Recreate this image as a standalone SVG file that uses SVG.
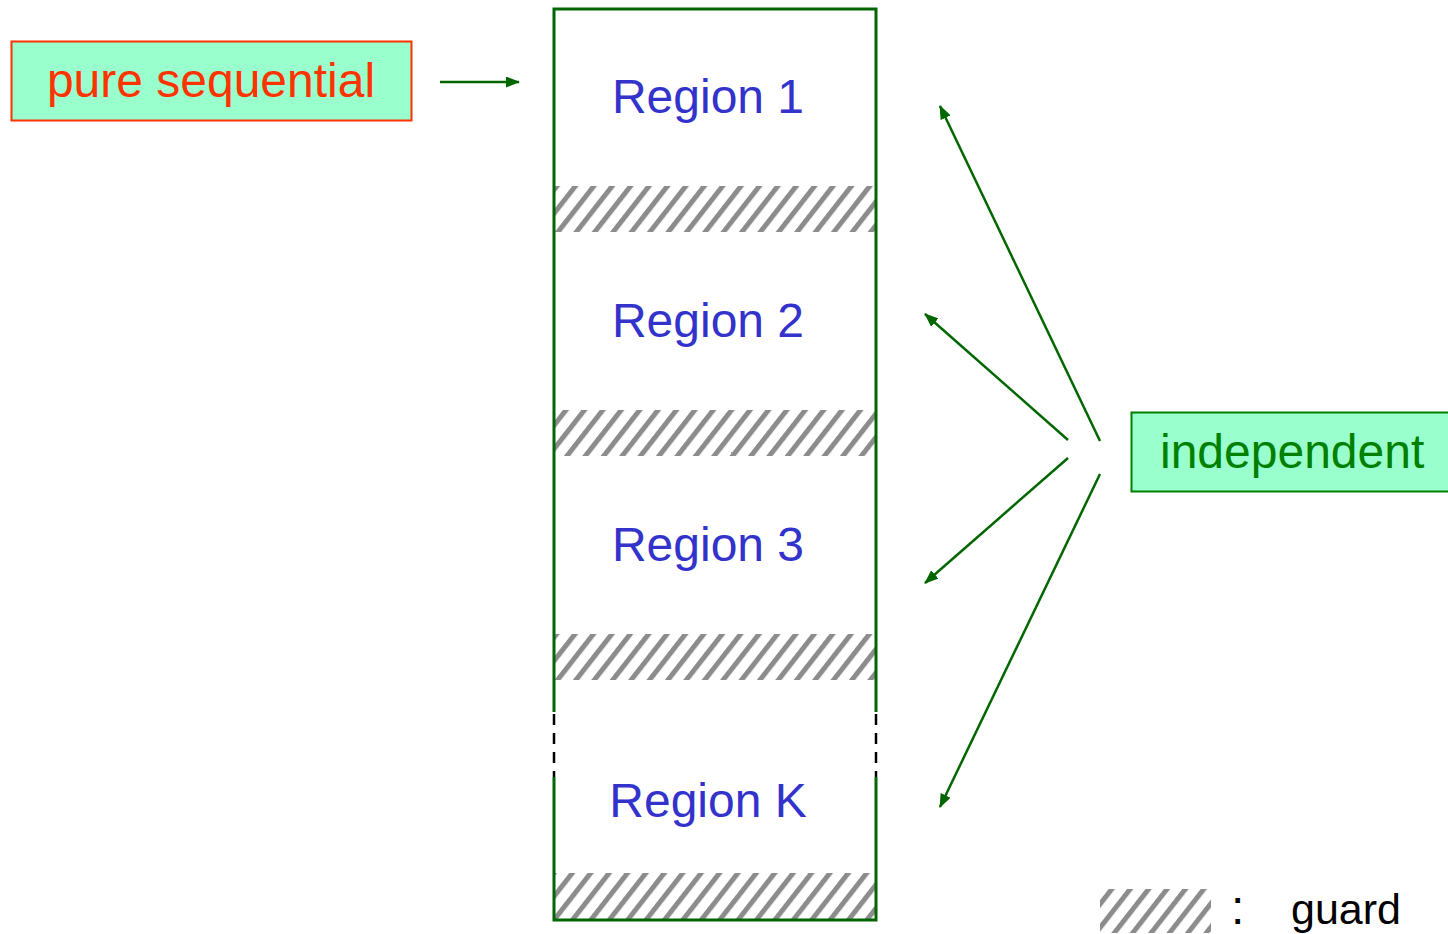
<svg xmlns="http://www.w3.org/2000/svg" width="1448" height="934" viewBox="0 0 1448 934">
  <style>
    .lbl { font-family: "Liberation Sans", Arial, sans-serif; font-size: 48px; }
    .region { fill: #3333cc; text-anchor: middle; }
    .wall { stroke: #006600; stroke-width: 3; fill: none; }
    .gap { stroke: #000; stroke-width: 2.5; stroke-dasharray: 11 8; fill: none; }
    .conn { stroke: #006600; stroke-width: 2.5; fill: none; marker-end: url(#arrow); }
    .guard { fill: url(#hatch); }
  </style>
  <defs>
    <pattern id="hatch" patternUnits="userSpaceOnUse" width="14.5" height="15" patternTransform="rotate(38)">
      <rect width="14.5" height="15" fill="#fff"/>
      <rect x="0" y="0" width="5" height="15" fill="#8c8c8c"/>
    </pattern>
    <marker id="arrow" viewBox="0 0 14 11" refX="13" refY="5.5" markerWidth="14" markerHeight="11" markerUnits="userSpaceOnUse" orient="auto">
      <path d="M0,0 L14,5.5 L0,11 Z" fill="#006600"/>
    </marker>
  </defs>

  <rect width="1448" height="934" fill="#fff"/>

  <!-- stacked regions with guard bands -->
  <g id="stack">
    <rect class="guard" x="555" y="186" width="321" height="46"/>
    <rect class="guard" x="555" y="410" width="321" height="46"/>
    <rect class="guard" x="555" y="634" width="321" height="46"/>
    <rect class="guard" x="555" y="873" width="321" height="46"/>
    <path class="wall" d="M554,712 V9 H876 V712"/>
    <path class="wall" d="M554,777 V920 H876 V777"/>
    <line class="gap" x1="554" y1="714" x2="554" y2="777"/>
    <line class="gap" x1="876" y1="714" x2="876" y2="777"/>
  </g>

  <g id="region1"><text class="lbl region" x="708" y="113">Region 1</text></g>
  <g id="region2"><text class="lbl region" x="708" y="337">Region 2</text></g>
  <g id="region3"><text class="lbl region" x="708" y="561">Region 3</text></g>
  <g id="regionK"><text class="lbl region" x="708" y="817">Region K</text></g>

  <g id="pure-sequential">
    <rect x="11.5" y="41.5" width="400" height="79" fill="#99ffcc" stroke="#ff3300" stroke-width="2"/>
    <text class="lbl" x="211" y="97" fill="#ff3300" text-anchor="middle">pure sequential</text>
  </g>

  <g id="independent">
    <rect x="1131.5" y="412.5" width="320" height="79" fill="#99ffcc" stroke="#008000" stroke-width="2"/>
    <text class="lbl" x="1160" y="468" fill="#008000">independent</text>
  </g>

  <g id="legend">
    <rect class="guard" x="1100" y="889" width="111" height="44"/>
    <text class="lbl" x="1231" y="924" font-size="42" fill="#000">:</text>
    <text class="lbl" x="1291" y="924" style="font-size:43px" fill="#000">guard</text>
  </g>

  <g id="connectors">
    <line class="conn" x1="440" y1="82" x2="519" y2="82"/>
    <line class="conn" x1="1100" y1="441" x2="940" y2="106"/>
    <line class="conn" x1="1068" y1="440" x2="925" y2="314"/>
    <line class="conn" x1="1068" y1="458" x2="925" y2="583"/>
    <line class="conn" x1="1100" y1="474" x2="940" y2="807"/>
  </g>
</svg>
